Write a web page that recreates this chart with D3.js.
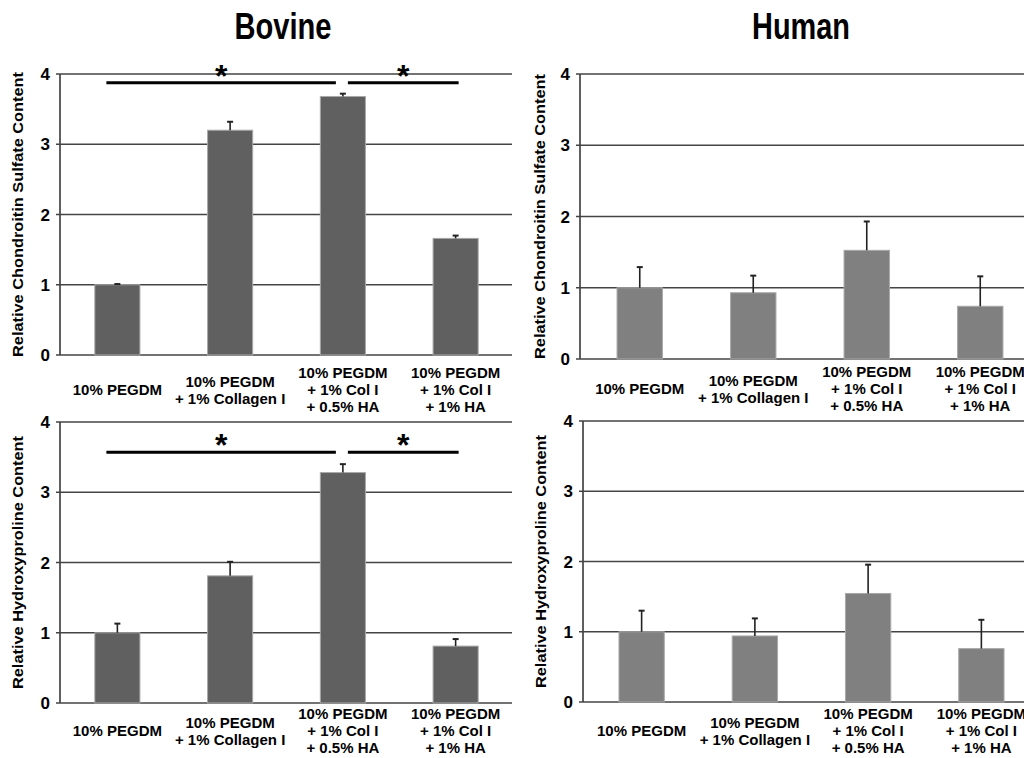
<!DOCTYPE html>
<html>
<head>
<meta charset="utf-8">
<script src="https://cdn.jsdelivr.net/npm/d3@7"></script>
<style>
  body { margin: 0; background: #fff; }
  text { font-family: Arial, "Liberation Sans", sans-serif; font-weight: bold; fill: #000; }
</style>
</head>
<body>
<svg id="chart" width="1024" height="758"></svg>
<script>
// category labels (one array of lines per bar)
var categories = [
    ["10% PEGDM"],
    ["10% PEGDM", "+ 1% Collagen I"],
    ["10% PEGDM", "+ 1% Col I", "+ 0.5% HA"],
    ["10% PEGDM", "+ 1% Col I", "+ 1% HA"]
];
var yTicks = [0, 1, 2, 3, 4];
var titles = ["Bovine", "Human"];
var yTitles = ["Relative Chondroitin Sulfate Content", "Relative Hydroxyproline Content"];

// values
var bovineCS = [1.0, 3.2, 3.68, 1.66];
var bovineCSErr = [0.01, 0.12, 0.04, 0.04];
var humanCS = [1.0, 0.93, 1.525, 0.74];
var humanCSErr = [0.29, 0.24, 0.405, 0.42];
var bovineHP = [1.0, 1.81, 3.28, 0.81];
var bovineHPErr = [0.13, 0.2, 0.12, 0.1];
var humanHP = [1.0, 0.94, 1.545, 0.76];
var humanHPErr = [0.3, 0.25, 0.41, 0.41];

// significance brackets: [from bar, to bar, height]
var bovineCSSig = [[0, 2, 3.876], [2, 3, 3.876]];
var bovineHPSig = [[0, 2, 3.57], [2, 3, 3.57]];

var svg = d3.select("#chart");

var panels = [
    {vals: bovineCS, err: bovineCSErr, sig: bovineCSSig, yt: yTitles[0], color: "#606060",
     left: 60, bandL: 61, bandR: 512, gridR: 512, top: 74, bottom: 355, labelY: 373, ylabX: 18},
    {vals: humanCS, err: humanCSErr, sig: [], yt: yTitles[0], color: "#808080",
     left: 580, bandL: 583, bandR: 1037, gridR: 1030, top: 74, bottom: 359, labelY: 372, ylabX: 540},
    {vals: bovineHP, err: bovineHPErr, sig: bovineHPSig, yt: yTitles[1], color: "#606060",
     left: 60, bandL: 61, bandR: 512, gridR: 512, top: 422, bottom: 703, labelY: 714, ylabX: 18},
    {vals: humanHP, err: humanHPErr, sig: [], yt: yTitles[1], color: "#808080",
     left: 583, bandL: 585, bandR: 1038, gridR: 1030, top: 421, bottom: 702, labelY: 714, ylabX: 541}
];

// column titles
svg.append("text").attr("x", 283).attr("y", 39).attr("text-anchor", "middle")
    .attr("font-size", "36px").attr("textLength", 97).attr("lengthAdjust", "spacingAndGlyphs")
    .text(titles[0]);
svg.append("text").attr("x", 801).attr("y", 39).attr("text-anchor", "middle")
    .attr("font-size", "36px").attr("textLength", 98).attr("lengthAdjust", "spacingAndGlyphs")
    .text(titles[1]);

panels.forEach(function(p){
    var x = d3.scaleBand().domain(d3.range(categories.length)).range([p.bandL, p.bandR]);
    var y = d3.scaleLinear().domain([0, 4]).range([p.bottom, p.top]);
    var step = x.bandwidth();
    var bw = step * 0.4;
    var cx = function(i){ return x(i) + step / 2; };
    var g = svg.append("g");

    // gridlines (incl. baseline)
    g.selectAll("line.grid").data(yTicks).enter().append("line")
        .attr("x1", p.left - 4).attr("x2", p.gridR)
        .attr("y1", function(d){ return y(d); }).attr("y2", function(d){ return y(d); })
        .attr("stroke", "#444").attr("stroke-width", 1.7);
    // y axis line
    g.append("line").attr("x1", p.left).attr("x2", p.left)
        .attr("y1", y(4)).attr("y2", y(0))
        .attr("stroke", "#444").attr("stroke-width", 1.7);
    // tick labels
    g.selectAll("text.tick").data(yTicks).enter().append("text")
        .attr("x", p.left - 10).attr("y", function(d){ return y(d) + 6; })
        .attr("text-anchor", "end").attr("font-size", "17px")
        .text(function(d){ return d; });

    // y title
    var my = (y(0) + y(4)) / 2;
    var len = p.yt.length > 32 ? 285 : 253;
    g.append("text")
        .attr("transform", "translate(" + (p.ylabX + 5) + "," + my + ") rotate(-90)")
        .attr("text-anchor", "middle").attr("font-size", "14.5px")
        .attr("textLength", len).attr("lengthAdjust", "spacingAndGlyphs")
        .text(p.yt);

    // bars
    g.selectAll("rect.bar").data(p.vals).enter().append("rect")
        .attr("x", function(d, i){ return cx(i) - bw / 2; })
        .attr("y", function(d){ return y(d); })
        .attr("width", bw)
        .attr("height", function(d){ return y(0) - y(d); })
        .attr("fill", p.color)
        .attr("stroke", "#a8a8a8").attr("stroke-width", 1);

    // error bars (upper only)
    g.selectAll("line.err").data(p.vals).enter().append("line")
        .attr("x1", function(d, i){ return cx(i); }).attr("x2", function(d, i){ return cx(i); })
        .attr("y1", function(d){ return y(d); })
        .attr("y2", function(d, i){ return y(d + p.err[i]); })
        .attr("stroke", "#222").attr("stroke-width", 1.6);
    g.selectAll("line.cap").data(p.vals).enter().append("line")
        .attr("x1", function(d, i){ return cx(i) - 3; }).attr("x2", function(d, i){ return cx(i) + 3; })
        .attr("y1", function(d, i){ return y(d + p.err[i]); })
        .attr("y2", function(d, i){ return y(d + p.err[i]); })
        .attr("stroke", "#222").attr("stroke-width", 2);

    // category labels
    categories.forEach(function(lines, i){
        var n = lines.length;
        var t = g.append("text").attr("text-anchor", "middle").attr("font-size", "15px");
        lines.forEach(function(s, k){
            t.append("tspan").attr("x", cx(i))
                .attr("y", p.labelY + 5 + (k + (3 - n) / 2) * 17)
                .text(s);
        });
    });

    // significance bars
    p.sig.forEach(function(s){
        var x1 = cx(s[0]) + (s[0] === 2 ? 5 : -11);
        var x2 = cx(s[1]) + (s[1] === 2 ? -7 : 3);
        g.append("line").attr("x1", x1).attr("x2", x2)
            .attr("y1", y(s[2])).attr("y2", y(s[2]))
            .attr("stroke", "#000").attr("stroke-width", 3);
        g.append("text").attr("x", (x1 + x2) / 2).attr("y", y(s[2]) + 4)
            .attr("text-anchor", "middle").attr("font-size", "32px")
            .text("*");
    });
});
</script>
</body>
</html>
